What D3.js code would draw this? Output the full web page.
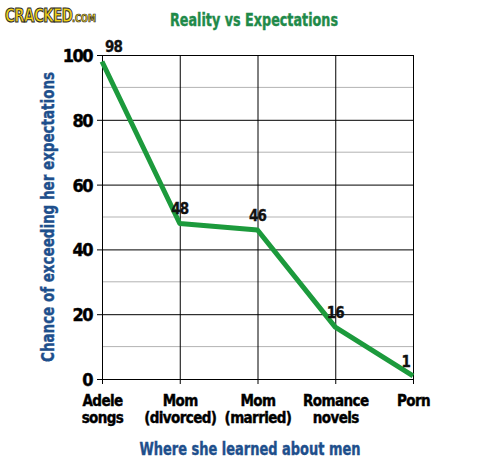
<!DOCTYPE html>
<html><head><meta charset="utf-8">
<script src="https://cdn.jsdelivr.net/npm/d3@7"></script>
<style>
body{margin:0;background:#fff;}
svg{display:block;}
text{font-family:"DejaVu Sans Condensed","DejaVu Sans",sans-serif;font-weight:bold;font-stretch:condensed;}
</style></head>
<body>
<script>
const categories = [["Adele","songs"],["Mom","(divorced)"],["Mom","(married)"],["Romance","novels"],["Porn"]];
const values = [98, 48, 46, 16, 1];
const majorTicks = [0, 20, 40, 60, 80, 100];
const minorTicks = [10, 30, 50, 70, 90];
const title = "Reality vs Expectations";
const xTitle = "Where she learned about men";
const yTitle = "Chance of exceeding her expectations";

const W = 496, H = 463;
const svg = d3.select("body").append("svg").attr("width", W).attr("height", H);

const x = d3.scalePoint().domain(d3.range(categories.length)).range([102, 413]);
const y = d3.scaleLinear().domain([0, 100]).range([379, 55]);

// logo
svg.append("text").attr("transform", "translate(5,22) scale(1,1.3)")
  .attr("fill", "#f2d21b").attr("stroke", "#2a2a2a").attr("stroke-width", 0.8)
  .attr("font-size", 15).attr("letter-spacing", -0.6).text("CRACKED");
svg.append("text").attr("transform", "translate(72,22) scale(1,1.2)")
  .attr("fill", "#f2d21b").attr("stroke", "#2a2a2a").attr("stroke-width", 0.6)
  .attr("font-size", 9).text(".COM");

// title
svg.append("text").attr("x", 254).attr("y", 26).attr("text-anchor", "middle")
  .attr("fill", "#1f8a4a").attr("stroke", "#1f8a4a").attr("stroke-width", 0.4)
  .attr("font-size", 17).attr("textLength", 168).attr("lengthAdjust", "spacingAndGlyphs").text(title);

// minor gridlines
svg.append("g").selectAll("line").data(minorTicks).join("line")
  .attr("x1", x(0)).attr("x2", x(categories.length - 1))
  .attr("y1", d => y(d)).attr("y2", d => y(d))
  .attr("stroke", "#b3b3b3").attr("stroke-width", 1);

// major gridlines + y axis
const yAxis = d3.axisLeft(y).tickValues(majorTicks).tickSize(-(x(categories.length - 1) - x(0))).tickPadding(10);
const gy = svg.append("g").attr("transform", `translate(${x(0)},0)`).call(yAxis);
gy.select(".domain").remove();
gy.selectAll(".tick line").attr("stroke", "#000").attr("x1", -5);
gy.selectAll(".tick text").attr("font-size", 18).attr("fill", "#000").attr("dy", "0.36em")
  .attr("letter-spacing", -1.5).attr("stroke", "#000").attr("stroke-width", 0.4)
  .style("font-family", "'DejaVu Sans Condensed',sans-serif");

// vertical gridlines + x axis
const xAxis = d3.axisBottom(x).tickSize(-(y(0) - y(100))).tickFormat("");
const gx = svg.append("g").attr("transform", `translate(0,${y(0)})`).call(xAxis);
gx.select(".domain").remove();
gx.selectAll(".tick line").attr("stroke", "#000").attr("y1", 5);
gx.selectAll(".tick").each(function(d, i) {
  const t = d3.select(this).append("text").attr("text-anchor", "middle").attr("fill", "#000")
    .attr("stroke", "#000").attr("stroke-width", 0.4)
    .attr("font-size", 15).attr("letter-spacing", -0.6).attr("y", 27);
  categories[i].forEach((ln, j) => t.append("tspan").attr("x", 0).attr("dy", j === 0 ? 0 : 17).text(ln));
});

// line
svg.append("path").datum(values)
  .attr("d", d3.line().x((d, i) => x(i)).y(d => y(d)))
  .attr("fill", "none").attr("stroke", "#1c9a3c").attr("stroke-width", 5).attr("stroke-linejoin", "round");

// value labels
svg.append("g").selectAll("text").data(values).join("text")
  .attr("x", (d, i) => i === 0 ? x(i) + 3 : i === values.length - 1 ? x(i) - 3 : x(i))
  .attr("y", d => y(d) - 9)
  .attr("text-anchor", (d, i) => i === 0 ? "start" : i === values.length - 1 ? "end" : "middle")
  .attr("font-size", 15).attr("letter-spacing", -1).attr("fill", "#111")
  .attr("stroke", "#111").attr("stroke-width", 0.3).text(d => d);

// axis titles
svg.append("text").attr("x", 250).attr("y", 455).attr("text-anchor", "middle")
  .attr("fill", "#1e4f8c").attr("stroke", "#1e4f8c").attr("stroke-width", 0.4)
  .attr("font-size", 17).attr("textLength", 221).attr("lengthAdjust", "spacingAndGlyphs").text(xTitle);
svg.append("text").attr("transform", "translate(54,217) rotate(-90)").attr("text-anchor", "middle")
  .attr("fill", "#1e4f8c").attr("stroke", "#1e4f8c").attr("stroke-width", 0.4)
  .attr("font-size", 17).attr("textLength", 290).attr("lengthAdjust", "spacingAndGlyphs").text(yTitle);
</script>
</body></html>
